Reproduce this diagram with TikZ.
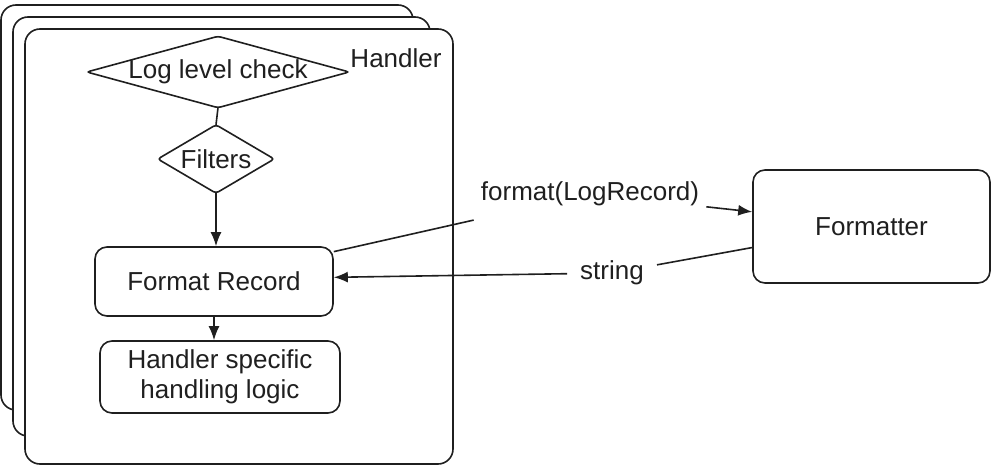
\documentclass[tikz,border=0pt]{standalone}
\usepackage{fontspec}
\setmainfont{Liberation Sans}
\usetikzlibrary{arrows.meta}
\begin{document}
\begin{tikzpicture}[x=1pt,y=-1pt,
  every node/.style={font=\fontsize{26}{30}\selectfont, text=black!88},
  line/.style={line width=1.6pt, draw=black!88},
  stack/.style={line, fill=white, rounded corners=15},
  box/.style={line, rounded corners=12, inner sep=0, align=center},
  decision/.style={inner sep=0},
  arr/.style={line, -{Latex[length=14pt,width=11pt]}},
  lbl/.style={inner ysep=0}
]
\useasboundingbox (0,0) rectangle (992,466);
% stacked handler frames
\draw[stack] (1,5) rectangle (413,410);
\draw[stack] (13,17) rectangle (430,436);
\draw[stack] (25,29) rectangle (453,464);
\node (hl) at (396,58) {Handler};
% decisions
\node[decision, minimum width=262, minimum height=71] (llc) at (218,72) {\raisebox{-3pt}{Log level check}};
\draw[line, rounded corners=3] (llc.west) -- (llc.north) -- (llc.east) -- (llc.south) -- cycle;
\node[decision, minimum width=116, minimum height=68] (filt) at (216,159) {Filters};
\draw[line, rounded corners=3] (filt.west) -- (filt.north) -- (filt.east) -- (filt.south) -- cycle;
% boxes
\node[box, minimum width=238, minimum height=69] (fr) at (214,281.5) {Format Record};
\node[box, minimum width=240, minimum height=72] (hs) at (220,377) {\raisebox{-4pt}{\begin{tabular}{@{}c@{}}Handler specific\\handling logic\end{tabular}}};
\node[box, minimum width=237, minimum height=113] (fmt) at (871.5,226.5) {Formatter};
% labels
\node[lbl, inner xsep=7, minimum height=72] (l1) at (590,194) {format(LogRecord)};
\node[lbl, inner xsep=13, minimum height=40] (l2) at (612,273) {string};
% connectors
\draw[line] (llc.south) -- (filt.north);
\draw[arr] (filt.south) -- (filt.south |- fr.north);
\draw[arr] (fr.south) -- (fr.south |- hs.north);
\draw[line] (fr.14) -- (l1);
\draw[arr] (l1) -- (fmt.173);
\draw[line] (fmt.190) -- (l2);
\draw[arr] (l2) -- (fr.2);
\end{tikzpicture}
\end{document}
